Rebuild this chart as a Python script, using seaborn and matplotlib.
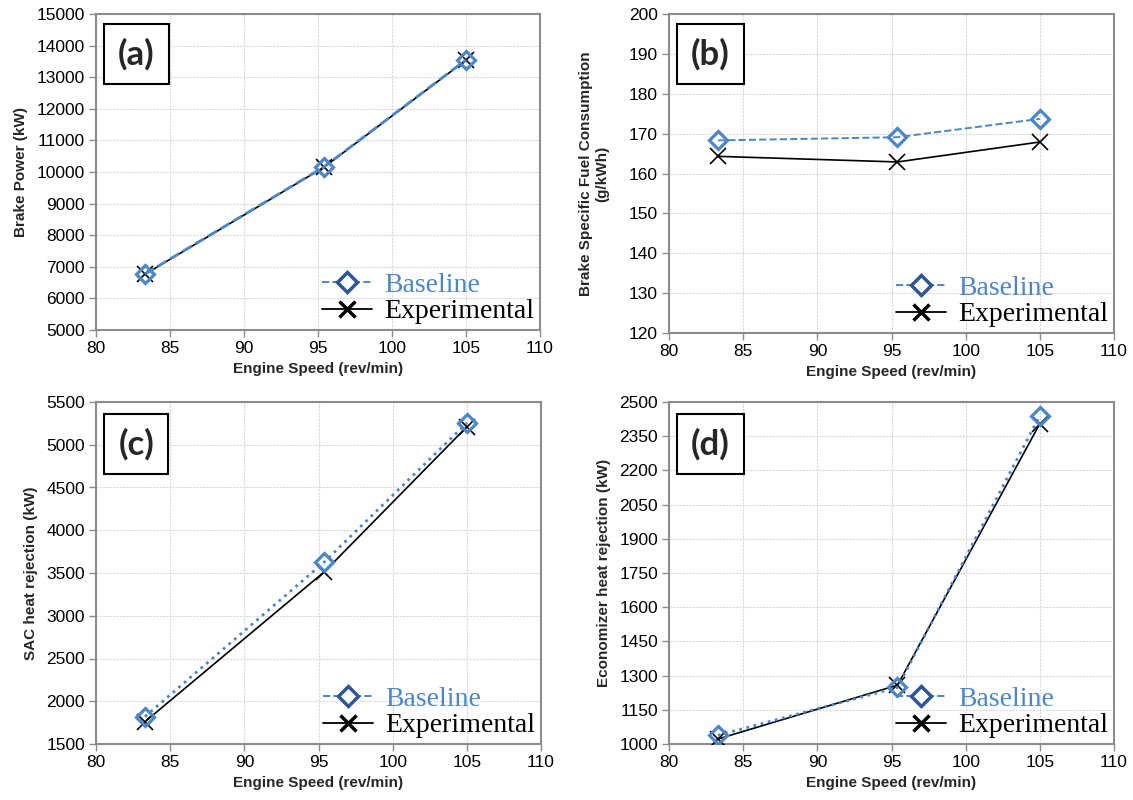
import matplotlib
matplotlib.use("Agg")
import matplotlib.pyplot as plt
from matplotlib.lines import Line2D
import seaborn as sns
import numpy as np

# ---- data ----
speed = [83.3, 95.4, 105.0]

power_base = [6770, 10160, 13550]
power_exp = [6760, 10150, 13540]

bsfc_base = [168.3, 169.1, 173.7]
bsfc_exp = [164.3, 162.9, 167.9]

sac_base = [1820, 3630, 5255]
sac_exp = [1760, 3515, 5210]

eco_base = [1038, 1248, 2440]
eco_exp = [1022, 1258, 2405]

panel_labels = ["(a)", "(b)", "(c)", "(d)"]
y_labels = ["Brake Power (kW)",
            "Brake Specific Fuel Consumption\n(g/kWh)",
            "SAC heat rejection (kW)",
            "Economizer heat rejection (kW)"]
x_label = "Engine Speed (rev/min)"
series_names = ["Baseline", "Experimental"]

sns.set_theme(style="white")
plt.rcParams['font.family'] = ['Liberation Sans', 'DejaVu Sans']

BLUE = "#4a86c8"
DBLUE = "#2f5597"
GRID = "#d9d9d9"
SPINE = "#8c8c8c"

W, H = 1133, 800
fig = plt.figure(figsize=(W / 100, H / 100), dpi=100)

def px_axes(l, t, r, b):
    return fig.add_axes([l / W, 1 - b / H, (r - l) / W, (b - t) / H])

boxes = [(96, 14, 540, 330), (669, 14, 1114, 333),
         (96, 402, 541, 744), (669, 402, 1114, 744)]

data = [(power_base, power_exp), (bsfc_base, bsfc_exp),
        (sac_base, sac_exp), (eco_base, eco_exp)]
ylims = [(5000, 15000), (120, 200), (1500, 5500), (1000, 2500)]
ysteps = [1000, 10, 500, 150]
base_ls = ["--", "--", ":", ":"]
base_lw = [2.0, 1.4, 2.0, 2.0]

for i, (box, (b, e)) in enumerate(zip(boxes, data)):
    ax = px_axes(*box)
    sns.lineplot(x=speed, y=e, ax=ax, color="black", linestyle="-",
                 linewidth=1.2, marker="x", markersize=11,
                 markeredgewidth=1.2, markeredgecolor="black", zorder=3)
    sns.lineplot(x=speed, y=b, ax=ax, color=BLUE, linestyle=base_ls[i],
                 linewidth=base_lw[i], marker="D", markersize=9,
                 markerfacecolor="none", markeredgecolor=BLUE,
                 markeredgewidth=2.3, zorder=4)
    ax.set_xlim(80, 110)
    ax.set_ylim(*ylims[i])
    ax.set_xticks(np.arange(80, 111, 5))
    ax.set_yticks(np.arange(ylims[i][0], ylims[i][1] + 1, ysteps[i]))
    ax.grid(True, color=GRID, linewidth=0.8, linestyle=(0, (2, 1)))
    ax.set_axisbelow(True)
    for s in ax.spines.values():
        s.set_color(SPINE)
        s.set_linewidth(1.5)
    ax.tick_params(axis="both", which="major", direction="out", length=5,
                   width=1, color=SPINE, labelsize=12.5, labelcolor="black",
                   pad=3, bottom=True, left=True)
    ax.set_xlabel(x_label, fontsize=11, fontweight="bold", labelpad=4)
    ax.set_ylabel(y_labels[i], fontsize=11, fontweight="bold",
                  labelpad=6 if i != 1 else 14)

    ax.text(0.05, 0.925, panel_labels[i], transform=ax.transAxes,
            fontsize=25, fontweight="bold", family=["Lato", "DejaVu Sans"],
            ha="left", va="top", zorder=6,
            bbox=dict(boxstyle="square,pad=0.4", facecolor="white",
                      edgecolor="black", linewidth=1.5))

    handles = [Line2D([], [], color=BLUE, linestyle="--", linewidth=1.4,
                      marker="D", markersize=10, markerfacecolor="white",
                      markeredgecolor=DBLUE, markeredgewidth=2.5),
               Line2D([], [], color="black", linestyle="-", linewidth=1.3,
                      marker="x", markersize=12, markeredgewidth=2.5,
                      markeredgecolor="black")]
    leg = ax.legend(handles, series_names, loc="lower right", frameon=False,
                    prop={"family": "Liberation Serif", "size": 20},
                    handlelength=1.8, handletextpad=0.45, labelspacing=0.05,
                    borderaxespad=0.1, borderpad=0.1)
    leg.get_texts()[0].set_color(BLUE)
    leg.get_texts()[1].set_color("black")

fig.savefig("out.png", dpi=100)
